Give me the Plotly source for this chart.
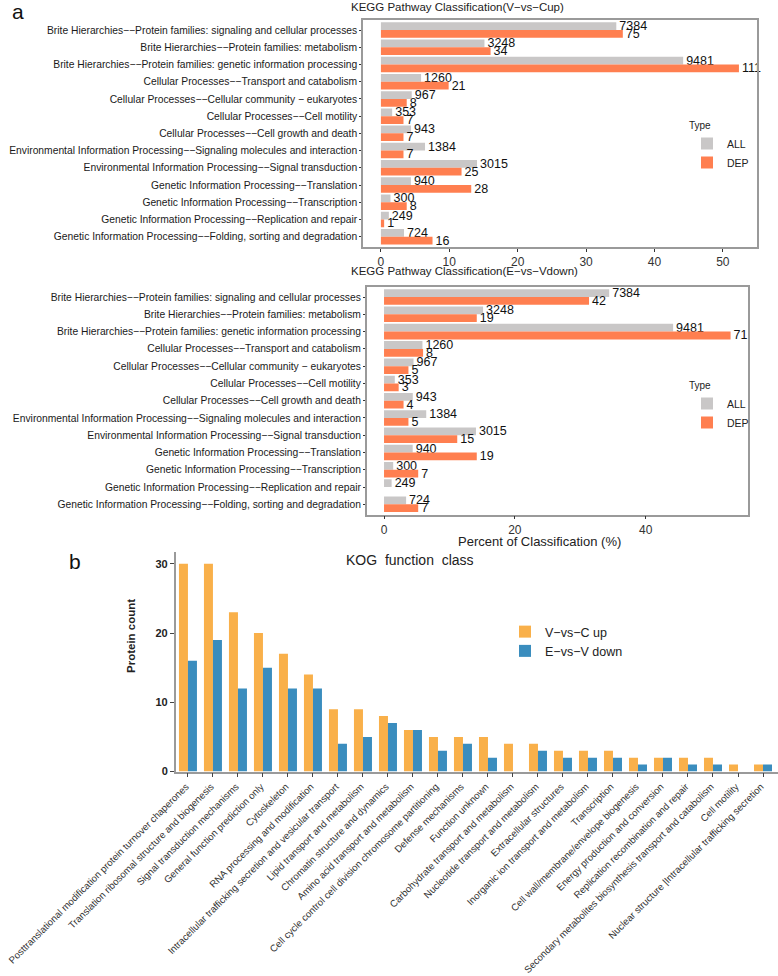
import plotly.graph_objects as go

W, H = 778, 976

# ---------------- data ----------------
kegg_categories = [
    "Brite Hierarchies\u2212\u2212Protein families: signaling and cellular processes",
    "Brite Hierarchies\u2212\u2212Protein families: metabolism",
    "Brite Hierarchies\u2212\u2212Protein families: genetic information processing",
    "Cellular Processes\u2212\u2212Transport and catabolism",
    "Cellular Processes\u2212\u2212Cellular community \u2212 eukaryotes",
    "Cellular Processes\u2212\u2212Cell motility",
    "Cellular Processes\u2212\u2212Cell growth and death",
    "Environmental Information Processing\u2212\u2212Signaling molecules and interaction",
    "Environmental Information Processing\u2212\u2212Signal transduction",
    "Genetic Information Processing\u2212\u2212Translation",
    "Genetic Information Processing\u2212\u2212Transcription",
    "Genetic Information Processing\u2212\u2212Replication and repair",
    "Genetic Information Processing\u2212\u2212Folding, sorting and degradation",
]
all_counts = [7384, 3248, 9481, 1260, 967, 353, 943, 1384, 3015, 940, 300, 249, 724]
up_dep_counts = [75, 34, 111, 21, 8, 7, 7, 7, 25, 28, 8, 1, 16]
down_dep_counts = [42, 19, 71, 8, 5, 3, 4, 5, 15, 19, 7, 0, 7]
ALL_TOTAL = 21450
UP_DEP_TOTAL = 212
DOWN_DEP_TOTAL = 134

kog_classes = [
    "Posttranslational modification protein turnover chaperones",
    "Translation ribosomal structure and biogenesis",
    "Signal transduction mechanisms",
    "General function prediction only",
    "Cytoskeleton",
    "RNA processing and modification",
    "Intracellular trafficking secretion and vesicular transport",
    "Lipid transport and metabolism",
    "Chromatin structure and dynamics",
    "Amino acid transport and metabolism",
    "Cell cycle control cell division chromosome partitioning",
    "Defense mechanisms",
    "Function unknown",
    "Carbohydrate transport and metabolism",
    "Nucleotide transport and metabolism",
    "Extracellular structures",
    "Inorganic ion transport and metabolism",
    "Transcription",
    "Cell wall/membrane/envelope biogenesis",
    "Energy production and conversion",
    "Replication recombination and repair",
    "Secondary metabolites biosynthesis transport and catabolism",
    "Cell motility",
    "Nuclear structure |Intracellular trafficking secretion",
]
kog_up = [30, 30, 23, 20, 17, 14, 9, 9, 8, 6, 5, 5, 5, 4, 4, 3, 3, 3, 2, 2, 2, 2, 1, 1]
kog_down = [16, 19, 12, 15, 12, 12, 4, 5, 7, 6, 3, 4, 2, 0, 3, 2, 2, 2, 1, 2, 1, 1, 0, 1]

# ---------------- styles ----------------
FONT = "Arial, Liberation Sans, sans-serif"
C_ALL = "#C9C7C7"
C_DEP = "#FF7F50"
C_UP = "#F9B04A"
C_DOWN = "#3A8DBE"
FRAME = "#9a9a9a"


def pct(counts, total):
    return [c / total * 100 if c else None for c in counts]


def lab(counts):
    return [str(c) if c else "" for c in counts]


TXT = dict(size=12.5, color="#111", family=FONT)

fig = go.Figure()

# panel 1
fig.add_trace(go.Bar(y=kegg_categories, x=pct(all_counts, ALL_TOTAL), orientation="h",
                     name="ALL", marker_color=C_ALL, width=0.45, offset=-0.45,
                     text=lab(all_counts), textposition="outside", cliponaxis=False,
                     constraintext="none", textfont=TXT, hoverinfo="skip",
                     xaxis="x", yaxis="y", legend="legend"))
fig.add_trace(go.Bar(y=kegg_categories, x=pct(up_dep_counts, UP_DEP_TOTAL), orientation="h",
                     name="DEP", marker_color=C_DEP, width=0.45, offset=0,
                     text=lab(up_dep_counts), textposition="outside", cliponaxis=False,
                     constraintext="none", textfont=TXT, hoverinfo="skip",
                     xaxis="x", yaxis="y", legend="legend"))
# panel 2
fig.add_trace(go.Bar(y=kegg_categories, x=pct(all_counts, ALL_TOTAL), orientation="h",
                     name="ALL", marker_color=C_ALL, width=0.45, offset=-0.45,
                     text=lab(all_counts), textposition="outside", cliponaxis=False,
                     constraintext="none", textfont=TXT, hoverinfo="skip",
                     xaxis="x2", yaxis="y2", legend="legend2"))
fig.add_trace(go.Bar(y=kegg_categories, x=pct(down_dep_counts, DOWN_DEP_TOTAL), orientation="h",
                     name="DEP", marker_color=C_DEP, width=0.45, offset=0,
                     text=lab(down_dep_counts), textposition="outside", cliponaxis=False,
                     constraintext="none", textfont=TXT, hoverinfo="skip",
                     xaxis="x2", yaxis="y2", legend="legend2"))
# panel 3
fig.add_trace(go.Bar(x=kog_classes, y=kog_up, name="V\u2212vs\u2212C up", marker_color=C_UP,
                     width=0.36, offset=-0.36, hoverinfo="skip",
                     xaxis="x3", yaxis="y3", legend="legend3"))
fig.add_trace(go.Bar(x=kog_classes, y=kog_down, name="E\u2212vs\u2212V down", marker_color=C_DOWN,
                     width=0.36, offset=0, hoverinfo="skip",
                     xaxis="x3", yaxis="y3", legend="legend3"))


def px_x(p):
    return p / W


def px_y(p):
    return 1 - p / H


frame_axis = dict(showline=True, mirror=True, linecolor=FRAME, linewidth=1.5,
                  showgrid=False, zeroline=False, automargin=False)
CAT_FONT = dict(size=10.3, color="#1a1a1a")

fig.update_layout(
    width=W, height=H, template="none",
    margin=dict(l=0, r=0, t=0, b=0),
    paper_bgcolor="white", plot_bgcolor="white",
    font=dict(family=FONT, color="#222"),
    barmode="overlay",
    xaxis=dict(domain=[px_x(363), px_x(757)], range=[-2.62, 55.0], anchor="y",
               tickvals=[0, 10, 20, 30, 40, 50], ticks="outside", ticklen=3, tickcolor="#333",
               tickfont=dict(size=12, color="#333"), **frame_axis),
    yaxis=dict(domain=[px_y(247), px_y(19.7)], type="category", range=[12.6, -0.6], anchor="x",
               ticks="outside", ticklen=2, tickcolor="#333", tickfont=CAT_FONT, **frame_axis),
    xaxis2=dict(domain=[px_x(366.7), px_x(748)], range=[-2.65, 55.65], anchor="y2",
                tickvals=[0, 20, 40], ticks="outside", ticklen=3, tickcolor="#333",
                tickfont=dict(size=12, color="#333"), **frame_axis),
    yaxis2=dict(domain=[px_y(514.7), px_y(286.7)], type="category", range=[12.6, -0.6], anchor="x2",
                ticks="outside", ticklen=2, tickcolor="#333", tickfont=CAT_FONT, **frame_axis),
    xaxis3=dict(domain=[px_x(175.7), 1.0], range=[-0.49, 23.6], anchor="y3", type="category",
                tickangle=-45, showline=True, linecolor=FRAME, linewidth=1.5, ticks="outside",
                ticklen=4, tickcolor="#444", showgrid=False, zeroline=False, automargin=False,
                ticklabelshift=-2, tickfont=dict(size=9.7, color="#333333")),
    yaxis3=dict(domain=[px_y(771.5), px_y(552)], range=[0, 31.7], anchor="x3",
                tickvals=[0, 10, 20, 30], showline=True, linecolor=FRAME, linewidth=1.5,
                ticks="outside", ticklen=4, tickcolor="#444", showgrid=False, zeroline=False,
                automargin=False, tickfont=dict(size=11, color="#222", weight="bold")),
    legend=dict(x=px_x(687), y=px_y(116), xanchor="left", yanchor="top",
                title=dict(text="Type", font=dict(size=10)), font=dict(size=10.5),
                bgcolor="rgba(0,0,0,0)", traceorder="normal", tracegroupgap=0),
    legend2=dict(x=px_x(687), y=px_y(376), xanchor="left", yanchor="top",
                 title=dict(text="Type", font=dict(size=10)), font=dict(size=10.5),
                 bgcolor="rgba(0,0,0,0)", traceorder="normal", tracegroupgap=0),
    legend3=dict(x=px_x(505), y=px_y(617), xanchor="left", yanchor="top",
                 font=dict(size=12.5, color="#222"), bgcolor="rgba(0,0,0,0)",
                 traceorder="normal", tracegroupgap=0),
    showlegend=True,
    hovermode=False,
)

ann = [
    dict(text="a", x=px_x(18), y=px_y(12), font=dict(size=21, color="#111")),
    dict(text="b", x=px_x(75), y=px_y(561), font=dict(size=21, color="#111")),
    dict(text="KEGG Pathway Classification(V\u2212vs\u2212Cup)", x=px_x(457), y=px_y(7.5),
         font=dict(size=11.5, color="#222")),
    dict(text="KEGG Pathway Classification(E\u2212vs\u2212Vdown)", x=px_x(464.5), y=px_y(271.5),
         font=dict(size=11.5, color="#222")),
    dict(text="Percent of Classification (%)", x=px_x(539), y=px_y(541),
         font=dict(size=13, color="#222")),
    dict(text="KOG  function  class", x=px_x(410), y=px_y(560),
         font=dict(size=14, color="#222")),
    dict(text="<b>Protein count</b>", x=px_x(131), y=px_y(636), textangle=-90,
         font=dict(size=11.5, color="#222")),
]
for a in ann:
    a.update(xref="paper", yref="paper", showarrow=False, xanchor="center", yanchor="middle")
fig.update_layout(annotations=ann)

fig.write_html("out.html", config={"displayModeBar": False},
               post_script="document.body.style.margin='0';document.body.style.overflow='hidden';")
